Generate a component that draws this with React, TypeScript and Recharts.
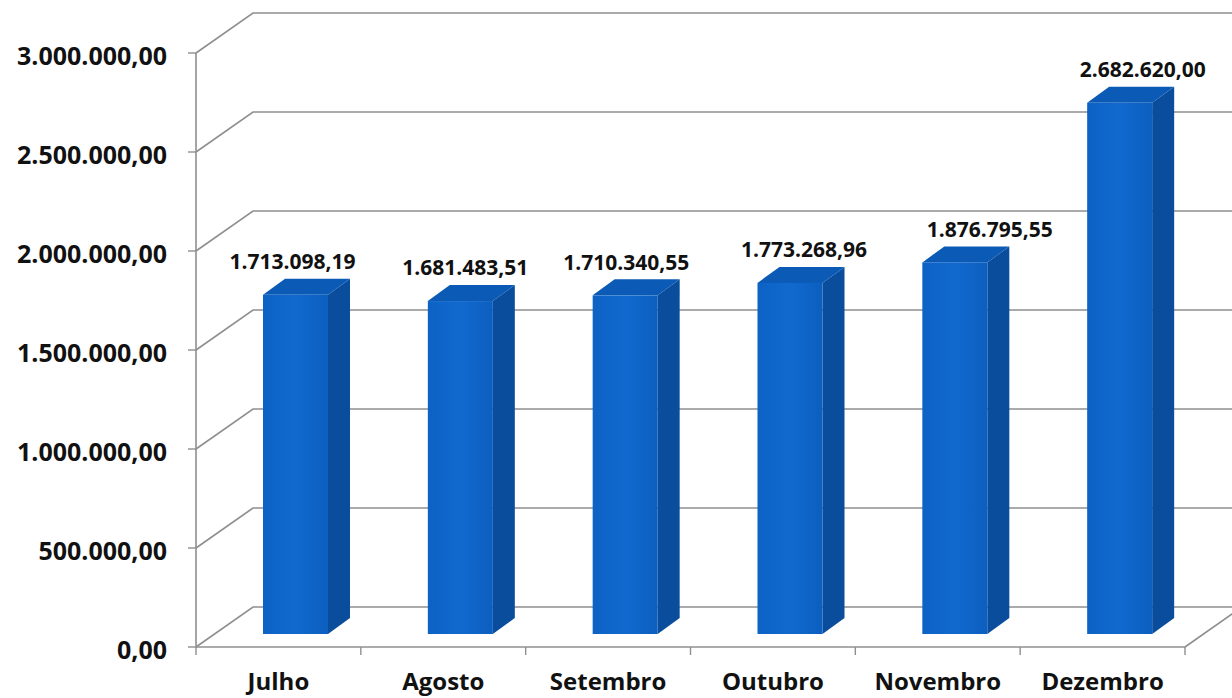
import { Bar, BarChart, CartesianGrid, LabelList, XAxis, YAxis } from "recharts";

const months = ["Julho", "Agosto", "Setembro", "Outubro", "Novembro", "Dezembro"];
const totals = [1713098.19, 1681483.51, 1710340.55, 1773268.96, 1876795.55, 2682620.0];
const yTicks = [0, 500000, 1000000, 1500000, 2000000, 2500000, 3000000];

// labels in the original were dragged around a bit by hand
const labelShiftX = [-3, 5, 1, 14, 35, 23];

const data = months.map((mes, i) => ({ mes, valor: totals[i] }));

const W = 1232;
const H = 698;
const PLOT_LEFT = 196;
const PLOT_RIGHT = 1185;
const PLOT_TOP = 53;
const PLOT_BOTTOM = 647;
const BAND = (PLOT_RIGHT - PLOT_LEFT) / months.length;

// wall depth and where the bars sit inside it
const WALL_DX = 57;
const WALL_DY = -40;
const BAR_FX = 17;
const BAR_FY = -13;
const BAR_DX = 22;
const BAR_DY = -16;

const FONT = "'Open Sans', Lato, sans-serif";
const GRID = "#8f8f8f";

function formatBR(v: number) {
  const [int, dec] = v.toFixed(2).split(".");
  return int.replace(/\B(?=(\d{3})+(?!\d))/g, ".") + "," + dec;
}

function GridLine(props: any) {
  const { x1, y1, key } = props;
  const isFloor = Math.abs(y1 - PLOT_BOTTOM) < 1;
  let d = `M${x1},${y1} L${x1 + WALL_DX},${y1 + WALL_DY} L${W + 10},${y1 + WALL_DY}`;
  if (isFloor) d += ` M${PLOT_RIGHT},${y1} L${PLOT_RIGHT + WALL_DX},${y1 + WALL_DY}`;
  return <path key={key} d={d} fill="none" stroke={GRID} strokeWidth={1.6} />;
}

function Bar3D(props: any) {
  const { x, y, width, height } = props;
  if (height == null || height <= 0) return null;
  const fx = x + BAR_FX;
  const fy = y + BAR_FY;
  const side = `${fx + width},${fy} ${fx + width + BAR_DX},${fy + BAR_DY} ${fx + width + BAR_DX},${fy + height + BAR_DY} ${fx + width},${fy + height}`;
  const top = `${fx},${fy} ${fx + BAR_DX},${fy + BAR_DY} ${fx + width + BAR_DX},${fy + BAR_DY} ${fx + width},${fy}`;
  return (
    <g>
      <polygon points={side} fill="#0a4d9c" />
      <polygon points={top} fill="#0b5ab6" />
      <rect x={fx} y={fy} width={width} height={height} fill="url(#frontFace)" />
    </g>
  );
}

function ValueLabel(props: any) {
  const { x, y, width, value, index } = props;
  return (
    <text
      x={x + width / 2 + BAR_FX + labelShiftX[index]}
      y={y + BAR_FY - 33}
      dy="0.35em"
      textAnchor="middle"
      fontFamily={FONT}
      fontWeight={700}
      fontSize={21}
      fill="#111"
    >
      {formatBR(value)}
    </text>
  );
}

function YTick(props: any) {
  const { x, y, payload } = props;
  return (
    <text x={x} y={y + 3} dy="0.35em" textAnchor="end" fontFamily={FONT} fontWeight={700} fontSize={25} fill="#111">
      {formatBR(payload.value)}
    </text>
  );
}

function MonthTick(props: any) {
  const { x, index, payload } = props;
  return (
    <g>
      <line x1={x - BAND / 2} y1={PLOT_BOTTOM} x2={x - BAND / 2} y2={PLOT_BOTTOM + 8} stroke={GRID} strokeWidth={1.4} />
      {index === months.length - 1 && (
        <line x1={x + BAND / 2} y1={PLOT_BOTTOM} x2={x + BAND / 2} y2={PLOT_BOTTOM + 8} stroke={GRID} strokeWidth={1.4} />
      )}
      <text x={x} y={690} textAnchor="middle" fontFamily={FONT} fontWeight={700} fontSize={24} fill="#111">
        {payload.value}
      </text>
    </g>
  );
}

export default function App() {
  return (
    <div style={{ position: "fixed", left: 0, top: 0, width: W, height: H, background: "#fff" }}>
      <BarChart
        width={W}
        height={H}
        data={data}
        margin={{ top: PLOT_TOP, right: W - PLOT_RIGHT, bottom: 0, left: 0 }}
      >
        <defs>
          <linearGradient id="frontFace" x1="0" y1="0" x2="1" y2="0">
            <stop offset="0%" stopColor="#0d62c4" />
            <stop offset="50%" stopColor="#1169cf" />
            <stop offset="100%" stopColor="#0c5fbf" />
          </linearGradient>
        </defs>
        <CartesianGrid vertical={false} horizontal={GridLine} />
        <XAxis
          dataKey="mes"
          height={H - PLOT_BOTTOM}
          interval={0}
          tickLine={false}
          axisLine={{ stroke: GRID, strokeWidth: 1.6 }}
          tick={MonthTick}
        />
        <YAxis
          width={PLOT_LEFT}
          domain={[0, 3000000]}
          ticks={yTicks}
          interval={0}
          tickSize={8}
          tickMargin={21}
          axisLine={{ stroke: GRID, strokeWidth: 1.6 }}
          tickLine={{ stroke: GRID, strokeWidth: 1.4 }}
          tick={YTick}
        />
        <Bar dataKey="valor" barSize={65} shape={Bar3D} isAnimationActive={false}>
          <LabelList dataKey="valor" content={ValueLabel} />
        </Bar>
      </BarChart>
    </div>
  );
}
